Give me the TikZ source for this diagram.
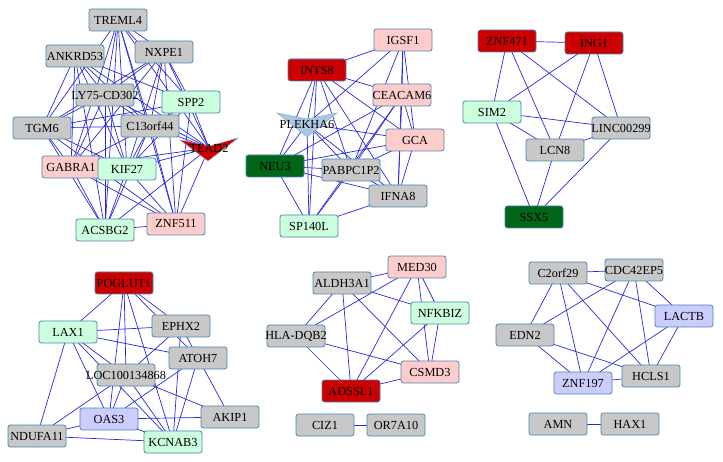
\documentclass[tikz,border=0pt]{standalone}
\usepackage{fontspec}
\setmainfont{Liberation Serif}
\usetikzlibrary{backgrounds}
\definecolor{nodeborder}{RGB}{74,134,170}
\definecolor{edgeblue}{RGB}{40,40,220}
\definecolor{grayfill}{RGB}{200,200,200}
\definecolor{pinkfill}{RGB}{255,204,204}
\definecolor{mintfill}{RGB}{204,255,221}
\definecolor{redfill}{RGB}{204,0,0}
\definecolor{darkgreenfill}{RGB}{0,102,26}
\definecolor{lavenderfill}{RGB}{204,204,255}
\definecolor{steelfill}{RGB}{170,200,226}
\pgfdeclarelayer{edgelayer}
\pgfdeclarelayer{shapelayer}
\pgfsetlayers{edgelayer,shapelayer,main}
\newcommand{\gn}[1]{\makebox[0pt]{#1}}
\tikzset{
  gene/.style={rectangle, rounded corners=2.5pt, draw=nodeborder, line width=0.8pt,
    fill=#1, minimum width=58pt, minimum height=22pt, inner sep=0pt,
    font=\fontsize{12.3}{14}\selectfont},
  vgene/.style={inner sep=0pt, minimum width=58pt, minimum height=22pt,
    font=\fontsize{12.3}{14}\selectfont},
  vshape/.style={fill=#1, draw=nodeborder!70, line width=0.4pt},
  edge/.style={edgeblue, line width=0.7pt}
}

\begin{document}
\begin{tikzpicture}[x=1pt, y=-1pt]
\useasboundingbox (0,0) rectangle (723,462);
% cluster 1
\node[gene=grayfill] (tre) at (118,20) {\gn{TREML4}};
\node[gene=grayfill] (ank) at (75,56) {\gn{ANKRD53}};
\node[gene=grayfill] (nxp) at (164,52) {\gn{NXPE1}};
\node[gene=grayfill] (ly) at (105,95) {\gn{LY75-CD302}};
\node[gene=mintfill] (spp) at (191,102) {\gn{SPP2}};
\node[gene=grayfill] (tgm) at (42,128) {\gn{TGM6}};
\node[gene=grayfill] (c13) at (150,126) {\gn{C13orf44}};
\node[vgene] (tead) at (209,148) {\gn{TEAD2}};
\node[gene=pinkfill] (gab) at (71,167) {\gn{GABRA1}};
\node[gene=mintfill] (kif) at (127,169) {\gn{KIF27}};
\node[gene=mintfill] (acs) at (105,230) {\gn{ACSBG2}};
\node[gene=pinkfill] (znfa) at (176,224) {\gn{ZNF511}};
% cluster 2
\node[gene=pinkfill] (igs) at (403,40) {\gn{IGSF1}};
\node[gene=redfill] (int) at (317,70) {\gn{INTS8}};
\node[gene=pinkfill] (cea) at (402,95) {\gn{CEACAM6}};
\node[vgene] (ple) at (307,124) {\gn{PLEKHA6}};
\node[gene=pinkfill] (gca) at (415,140) {\gn{GCA}};
\node[gene=darkgreenfill] (neu) at (275,166) {\gn{NEU3}};
\node[gene=grayfill] (pab) at (351,170) {\gn{PABPC1P2}};
\node[gene=grayfill] (ifn) at (398,196) {\gn{IFNA8}};
\node[gene=mintfill] (spl) at (309,226) {\gn{SP140L}};
% cluster 3
\node[gene=redfill] (znfb) at (507,41) {\gn{ZNF471}};
\node[gene=redfill] (ing) at (594,43) {\gn{ING1}};
\node[gene=mintfill] (sim) at (492,112) {\gn{SIM2}};
\node[gene=grayfill] (lin) at (621,128) {\gn{LINC00299}};
\node[gene=grayfill] (lcn) at (555,150) {\gn{LCN8}};
\node[gene=darkgreenfill] (ssx) at (534,217) {\gn{SSX5}};
% cluster 4
\node[gene=redfill] (pog) at (124,283) {\gn{POGLUT1}};
\node[gene=mintfill] (lax) at (68,332) {\gn{LAX1}};
\node[gene=grayfill] (eph) at (181,326) {\gn{EPHX2}};
\node[gene=grayfill] (ato) at (198,358) {\gn{ATOH7}};
\node[gene=grayfill] (loc) at (126,375) {\gn{LOC100134868}};
\node[gene=lavenderfill] (oas) at (109,419) {\gn{OAS3}};
\node[gene=grayfill] (aki) at (230,417) {\gn{AKIP1}};
\node[gene=grayfill] (ndu) at (37,436) {\gn{NDUFA11}};
\node[gene=mintfill] (kcn) at (173,442) {\gn{KCNAB3}};
% cluster 5
\node[gene=pinkfill] (med) at (417,267) {\gn{MED30}};
\node[gene=grayfill] (ald) at (342,283) {\gn{ALDH3A1}};
\node[gene=mintfill] (nfk) at (440,313) {\gn{NFKBIZ}};
\node[gene=grayfill] (hla) at (296,336) {\gn{HLA-DQB2}};
\node[gene=pinkfill] (csm) at (430,372) {\gn{CSMD3}};
\node[gene=redfill] (ads) at (351,391) {\gn{ADSSL1}};
\node[gene=grayfill] (ciz) at (325,425) {\gn{CIZ1}};
\node[gene=grayfill] (ora) at (396,425) {\gn{OR7A10}};
% cluster 6
\node[gene=grayfill] (ctwo) at (558,273) {\gn{C2orf29}};
\node[gene=grayfill] (cdc) at (634,270) {\gn{CDC42EP5}};
\node[gene=lavenderfill] (lac) at (684,316) {\gn{LACTB}};
\node[gene=grayfill] (edn) at (525,335) {\gn{EDN2}};
\node[gene=grayfill] (hcl) at (651,376) {\gn{HCLS1}};
\node[gene=lavenderfill] (znfc) at (583,383) {\gn{ZNF197}};
\node[gene=grayfill] (amn) at (558,424) {\gn{AMN}};
\node[gene=grayfill] (hax) at (630,424) {\gn{HAX1}};

\begin{pgfonlayer}{shapelayer}
\path[vshape=redfill] (tead) ++(-29,-8) -- ++(30,6) -- ++(28,-8) -- ++(-30,23) -- cycle;
\path[vshape=steelfill] (ple) ++(-30,-11) -- ++(30,6) -- ++(30,-6) -- ++(-30,24) -- cycle;
\end{pgfonlayer}

\begin{pgfonlayer}{edgelayer}
\foreach \a/\b in {tre/nxp, tre/ly, tre/spp, tre/tgm, tre/c13, tre/gab, tre/kif,
  tre/tead, tre/acs, tre/znfa, ank/spp, ank/c13, ank/tead, ank/gab, ank/kif,
  ank/tgm, ank/acs, ank/ly, nxp/ly, nxp/spp, nxp/tgm, nxp/c13, nxp/tead, nxp/kif,
  nxp/gab, nxp/znfa, ly/tgm, ly/c13, ly/tead, ly/gab, ly/kif, ly/acs, spp/tgm,
  spp/c13, spp/tead, spp/kif, spp/znfa, tgm/c13, tgm/gab, tgm/kif, tgm/acs,
  tgm/znfa, c13/gab, c13/kif, c13/tead, c13/acs, c13/znfa, tead/kif, tead/gab,
  tead/acs, tead/znfa, gab/acs, gab/znfa, gab/kif, kif/acs, kif/znfa, acs/znfa}
  \draw[edge] (\a.center) -- (\b.center);
\foreach \a/\b in {int/igs, int/cea, int/gca, int/ple, int/neu, int/spl, int/pab,
  int/ifn, igs/ple, igs/cea, igs/gca, igs/ifn, igs/pab, cea/neu, cea/pab, cea/ifn,
  cea/gca, cea/spl, ple/gca, ple/neu, ple/spl, ple/pab, ple/ifn, gca/neu, gca/pab,
  gca/ifn, neu/pab, neu/spl, neu/ifn, pab/spl, pab/ifn, ifn/spl}
  \draw[edge] (\a.center) -- (\b.center);
\foreach \a/\b in {znfb/ing, znfb/sim, znfb/lcn, znfb/lin, ing/sim, ing/lcn,
  ing/lin, sim/lin, sim/lcn, sim/ssx, lcn/lin, lcn/ssx, lin/ssx}
  \draw[edge] (\a.center) -- (\b.center);
\foreach \a/\b in {pog/lax, pog/eph, pog/ato, pog/loc, pog/oas, pog/kcn, lax/eph,
  lax/ato, lax/loc, lax/oas, lax/ndu, lax/kcn, eph/loc, eph/ato, eph/kcn, ato/oas,
  ato/kcn, ato/aki, loc/oas, loc/kcn, loc/aki, loc/ndu, oas/aki, oas/ndu, oas/kcn,
  ndu/kcn}
  \draw[edge] (\a.center) -- (\b.center);
\foreach \a/\b in {ald/med, ald/nfk, ald/hla, ald/ads, ald/csm, med/hla, med/ads,
  med/nfk, med/csm, nfk/csm, nfk/ads, hla/csm, hla/ads, ads/csm, ciz/ora}
  \draw[edge] (\a.center) -- (\b.center);
\foreach \a/\b in {ctwo/cdc, ctwo/lac, ctwo/edn, ctwo/znfc, ctwo/hcl, cdc/edn,
  cdc/znfc, cdc/hcl, cdc/lac, lac/znfc, lac/hcl, edn/znfc, edn/hcl, znfc/hcl,
  amn/hax}
  \draw[edge] (\a.center) -- (\b.center);
\end{pgfonlayer}
\end{tikzpicture}
\end{document}
